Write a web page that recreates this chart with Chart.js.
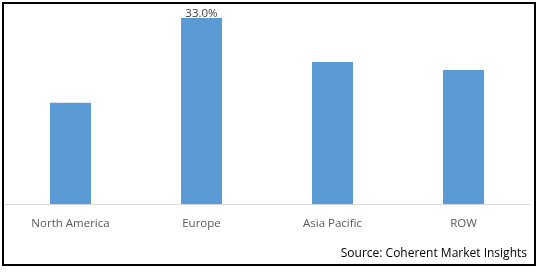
<!DOCTYPE html>
<html>
<head>
<meta charset="utf-8">
<script src="https://cdn.jsdelivr.net/npm/chart.js@4"></script>
<style>
  body { margin: 0; background: #fff; }
  #wrap { position: relative; width: 538px; height: 272px; }
  #frame { position: absolute; left: 2px; top: 2px; width: 534px; height: 264px; box-sizing: border-box; border: 2px solid #000; pointer-events: none; }
  #source { position: absolute; right: 11px; top: 244px; font: 12px "Open Sans", sans-serif; color: #000; }
</style>
</head>
<body>
<div id="wrap">
  <canvas id="myChart" width="538" height="272"></canvas>
  <div id="frame"></div>
  <div id="source">Source: Coherent Market Insights</div>
</div>
<script>
// region shares (%)
const regions = ["North America", "Europe", "Asia Pacific", "ROW"];
const shares = [18.0, 33.0, 25.2, 23.8];
const shownLabels = [null, "33.0%", null, null];

// draws the single value label above a bar
const valueLabels = {
  id: "valueLabels",
  afterDatasetsDraw(chart) {
    const ctx = chart.ctx;
    const meta = chart.getDatasetMeta(0);
    ctx.save();
    ctx.font = '11.5px "Open Sans", sans-serif';
    ctx.fillStyle = "#404040";
    ctx.textAlign = "center";
    ctx.textBaseline = "bottom";
    meta.data.forEach((bar, i) => {
      if (shownLabels[i]) ctx.fillText(shownLabels[i], bar.x, bar.y + 1);
    });
    ctx.restore();
  }
};

const ctx = document.getElementById("myChart").getContext("2d");
new Chart(ctx, {
  type: "bar",
  data: {
    labels: regions,
    datasets: [{
      data: shares,
      backgroundColor: "#5b9bd5",
      borderWidth: 0,
      categoryPercentage: 1,
      barPercentage: 0.313
    }]
  },
  options: {
    responsive: false,
    animation: false,
    layout: { padding: { top: 18, left: 5, right: 9, bottom: 36 } },
    plugins: { legend: { display: false }, tooltip: { enabled: false } },
    scales: {
      x: {
        grid: { display: false },
        border: { color: "#d9d9d9", width: 1 },
        ticks: { color: "#595959", font: { family: "Open Sans", size: 11.5 }, padding: 5 }
      },
      y: {
        display: false,
        min: 0,
        max: 33
      }
    }
  },
  plugins: [valueLabels]
});
</script>
</body>
</html>
